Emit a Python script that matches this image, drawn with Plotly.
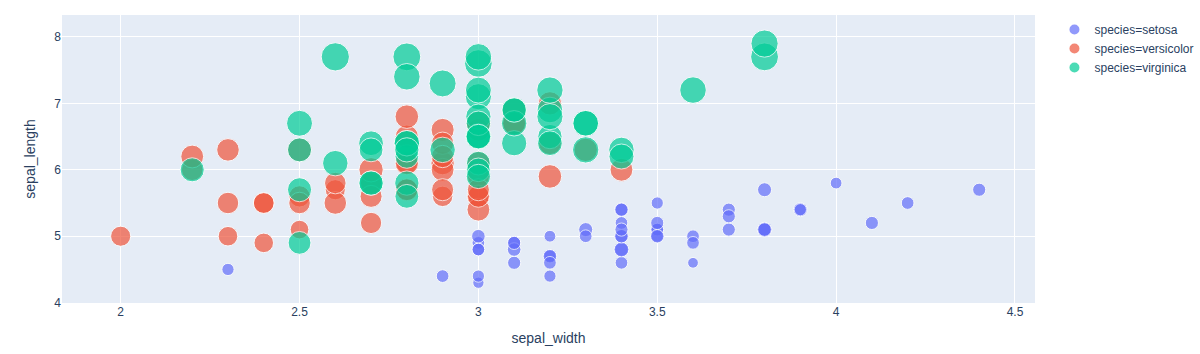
import pandas as pd
import plotly.express as px

# Iris data (sepal_length, sepal_width, petal_length) per species
setosa_sepal_length = [5.1,4.9,4.7,4.6,5.0,5.4,4.6,5.0,4.4,4.9,5.4,4.8,4.8,4.3,5.8,5.7,5.4,5.1,5.7,5.1,
                       5.4,5.1,4.6,5.1,4.8,5.0,5.0,5.2,5.2,4.7,4.8,5.4,5.2,5.5,4.9,5.0,5.5,4.9,4.4,5.1,
                       5.0,4.5,4.4,5.0,5.1,4.8,5.1,4.6,5.3,5.0]
setosa_sepal_width = [3.5,3.0,3.2,3.1,3.6,3.9,3.4,3.4,2.9,3.1,3.7,3.4,3.0,3.0,4.0,4.4,3.9,3.5,3.8,3.8,
                      3.4,3.7,3.6,3.3,3.4,3.0,3.4,3.5,3.4,3.2,3.1,3.4,4.1,4.2,3.1,3.2,3.5,3.6,3.0,3.4,
                      3.5,2.3,3.2,3.5,3.8,3.0,3.8,3.2,3.7,3.3]
setosa_petal_length = [1.4,1.4,1.3,1.5,1.4,1.7,1.4,1.5,1.4,1.5,1.5,1.6,1.4,1.1,1.2,1.5,1.3,1.4,1.7,1.5,
                       1.7,1.5,1.0,1.7,1.9,1.6,1.6,1.5,1.4,1.6,1.6,1.5,1.5,1.4,1.5,1.2,1.3,1.4,1.3,1.5,
                       1.3,1.3,1.3,1.6,1.9,1.4,1.6,1.4,1.5,1.4]

versicolor_sepal_length = [7.0,6.4,6.9,5.5,6.5,5.7,6.3,4.9,6.6,5.2,5.0,5.9,6.0,6.1,5.6,6.7,5.6,5.8,6.2,5.6,
                           5.9,6.1,6.3,6.1,6.4,6.6,6.8,6.7,6.0,5.7,5.5,5.5,5.8,6.0,5.4,6.0,6.7,6.3,5.6,5.5,
                           5.5,6.1,5.8,5.0,5.6,5.7,5.7,6.2,5.1,5.7]
versicolor_sepal_width = [3.2,3.2,3.1,2.3,2.8,2.8,3.3,2.4,2.9,2.7,2.0,3.0,2.2,2.9,2.9,3.1,3.0,2.7,2.2,2.5,
                          3.2,2.8,2.5,2.8,2.9,3.0,2.8,3.0,2.9,2.6,2.4,2.4,2.7,2.7,3.0,3.4,3.1,2.3,3.0,2.5,
                          2.6,3.0,2.6,2.3,2.7,3.0,2.9,2.9,2.5,2.8]
versicolor_petal_length = [4.7,4.5,4.9,4.0,4.6,4.5,4.7,3.3,4.6,3.9,3.5,4.2,4.0,4.7,3.6,4.4,4.5,4.1,4.5,3.9,
                           4.8,4.0,4.9,4.7,4.3,4.4,4.8,5.0,4.5,3.5,3.8,3.7,3.9,5.1,4.5,4.5,4.7,4.4,4.1,4.0,
                           4.4,4.6,4.0,3.3,4.2,4.2,4.2,4.3,3.0,4.1]

virginica_sepal_length = [6.3,5.8,7.1,6.3,6.5,7.6,4.9,7.3,6.7,7.2,6.5,6.4,6.8,5.7,5.8,6.4,6.5,7.7,7.7,6.0,
                          6.9,5.6,7.7,6.3,6.7,7.2,6.2,6.1,6.4,7.2,7.4,7.9,6.4,6.3,6.1,7.7,6.3,6.4,6.0,6.9,
                          6.7,6.9,5.8,6.8,6.7,6.7,6.3,6.5,6.2,5.9]
virginica_sepal_width = [3.3,2.7,3.0,2.9,3.0,3.0,2.5,2.9,2.5,3.6,3.2,2.7,3.0,2.5,2.8,3.2,3.0,3.8,2.6,2.2,
                         3.2,2.8,2.8,2.7,3.3,3.2,2.8,3.0,2.8,3.0,2.8,3.8,2.8,2.8,2.6,3.0,3.4,3.1,3.0,3.1,
                         3.1,3.1,2.7,3.2,3.3,3.0,2.5,3.0,3.4,3.0]
virginica_petal_length = [6.0,5.1,5.9,5.6,5.8,6.6,4.5,6.3,5.8,6.1,5.1,5.3,5.5,5.0,5.1,5.3,5.5,6.7,6.9,5.0,
                          5.7,4.9,6.7,4.9,5.7,6.0,4.8,4.9,5.6,5.8,6.1,6.4,5.6,5.1,5.6,6.1,5.6,5.5,4.8,5.4,
                          5.6,5.1,5.1,5.9,5.7,5.2,5.0,5.2,5.4,5.1]

species_names = ["setosa", "versicolor", "virginica"]

frames = []
for name, sl, sw, pl in [
    ("setosa", setosa_sepal_length, setosa_sepal_width, setosa_petal_length),
    ("versicolor", versicolor_sepal_length, versicolor_sepal_width, versicolor_petal_length),
    ("virginica", virginica_sepal_length, virginica_sepal_width, virginica_petal_length),
]:
    frames.append(pd.DataFrame({"sepal_length": sl, "sepal_width": sw,
                                "petal_length": pl, "species": name}))
df = pd.concat(frames, ignore_index=True)

fig = px.scatter(df, x="sepal_width", y="sepal_length", color="species",
                 size="petal_length", category_orders={"species": species_names})
fig.for_each_trace(lambda t: t.update(name="species=" + t.name))
fig.update_traces(marker=dict(opacity=0.7, line=dict(color="white", width=1)))
fig.update_layout(width=1200, height=354,
                  margin=dict(l=62, r=165, t=15, b=51, autoexpand=False),
                  legend_title_text="",
                  font=dict(family="Liberation Sans, Arial, sans-serif"))
fig.update_xaxes(range=[1.836, 4.556])
fig.update_yaxes(range=[3.995, 8.33])
fig.write_html("out.html")
